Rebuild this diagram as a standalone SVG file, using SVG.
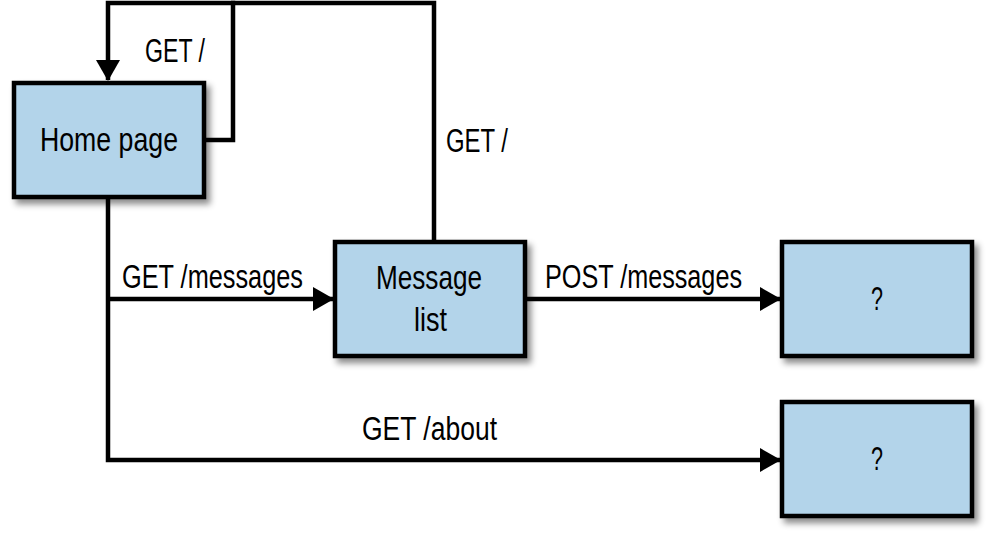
<svg xmlns="http://www.w3.org/2000/svg" width="1000" height="545" viewBox="0 0 1000 545">
<style>
.box{fill:#b3d4ea;stroke:#000;stroke-width:4.5;filter:url(#sh)}
.ln{fill:none;stroke:#000;stroke-width:4.5;stroke-linejoin:miter}
.t{font-family:"Liberation Sans",Arial,sans-serif;font-size:33px;fill:#000}
.c{text-anchor:middle}
</style>
<defs>
<filter id="sh" x="-10%" y="-10%" width="130%" height="135%">
<feDropShadow dx="4" dy="5" stdDeviation="3" flood-color="#000" flood-opacity="0.45"/>
</filter>
<marker id="ah" markerUnits="userSpaceOnUse" markerWidth="22" markerHeight="26" refX="20" refY="13" orient="auto">
<path d="M0,1 L21,13 L0,25 Z" fill="#000"/>
</marker>
</defs>
<g id="connectors">
<polyline class="ln" points="204,140 233,140 233,3 108,3 108,80" marker-end="url(#ah)"/>
<polyline class="ln" points="434,242 434,3 231,3"/>
<polyline class="ln" points="108,197 108,460 780,460" marker-end="url(#ah)"/>
<line class="ln" x1="108" y1="299" x2="333" y2="299" marker-end="url(#ah)"/>
<line class="ln" x1="525" y1="299" x2="780" y2="299" marker-end="url(#ah)"/>
<text class="t" x="145" y="62" textLength="60" lengthAdjust="spacingAndGlyphs">GET /</text>
<text class="t" x="446" y="152" textLength="62" lengthAdjust="spacingAndGlyphs">GET /</text>
<text class="t" x="122" y="288" textLength="181" lengthAdjust="spacingAndGlyphs">GET /messages</text>
<text class="t" x="545" y="288" textLength="197" lengthAdjust="spacingAndGlyphs">POST /messages</text>
<text class="t" x="362" y="440" textLength="135" lengthAdjust="spacingAndGlyphs">GET /about</text>
</g>
<g id="home">
<rect class="box" x="14" y="83" width="190" height="114"/>
<text class="t" x="40" y="151" textLength="138" lengthAdjust="spacingAndGlyphs">Home page</text>
</g>
<g id="messagelist">
<rect class="box" x="335" y="242" width="190" height="114"/>
<text class="t" x="376" y="289" textLength="106" lengthAdjust="spacingAndGlyphs">Message</text>
<text class="t" x="414" y="331" textLength="33" lengthAdjust="spacingAndGlyphs">list</text>
</g>
<g id="unknown1">
<rect class="box" x="782" y="242" width="190" height="114"/>
<text class="t" x="871" y="310" textLength="12" lengthAdjust="spacingAndGlyphs">?</text>
</g>
<g id="unknown2">
<rect class="box" x="782" y="402" width="190" height="114"/>
<text class="t" x="871" y="470" textLength="12" lengthAdjust="spacingAndGlyphs">?</text>
</g>
</svg>
